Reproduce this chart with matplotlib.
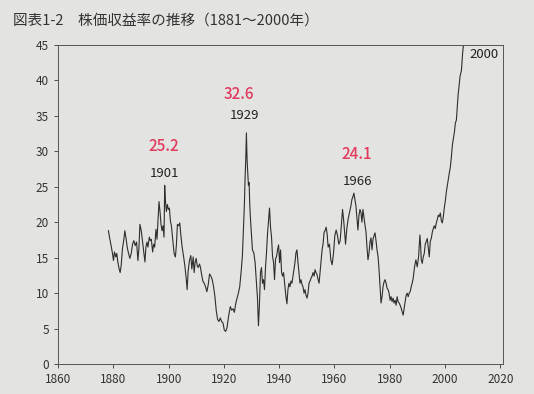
import matplotlib.pyplot as plt

plt.rcParams["font.family"] = ["Noto Sans CJK JP", "DejaVu Sans"]

# 株価収益率 (x positions as drawn in the figure)
years = [
    1878.18, 1878.55, 1879.15, 1879.64, 1880.00, 1880.36, 1880.85, 1881.21, 1881.57, 1882.06,
    1882.42, 1882.79, 1883.27, 1883.76, 1884.12, 1884.48, 1884.97, 1885.45, 1885.94, 1886.42,
    1886.91, 1887.39, 1887.88, 1888.36, 1888.85, 1889.21, 1889.57, 1890.06, 1890.54, 1891.03,
    1891.39, 1891.76, 1892.12, 1892.48, 1892.97, 1893.33, 1893.70, 1894.18, 1894.55, 1894.91,
    1895.39, 1895.76, 1896.12, 1896.48, 1896.85, 1897.21, 1897.57, 1897.94, 1898.30, 1898.54,
    1898.79, 1899.15, 1899.51, 1899.88, 1900.24, 1900.60, 1900.97, 1901.45, 1901.94, 1902.42,
    1902.79, 1903.15, 1903.63, 1904.00, 1904.36, 1904.85, 1905.33, 1905.82, 1906.30, 1906.66,
    1907.03, 1907.51, 1908.00, 1908.36, 1908.85, 1909.21, 1909.57, 1909.94, 1910.30, 1910.66,
    1911.15, 1911.51, 1911.87, 1912.36, 1912.84, 1913.33, 1913.81, 1914.30, 1914.78, 1915.27,
    1915.75, 1916.24, 1916.72, 1917.21, 1917.69, 1918.18, 1918.66, 1919.15, 1919.63, 1920.12,
    1920.60, 1921.09, 1921.57, 1921.82, 1922.30, 1922.79, 1923.27, 1923.76, 1924.24, 1924.73,
    1925.21, 1925.70, 1926.18, 1926.66, 1927.03, 1927.39, 1927.63, 1927.88, 1928.12, 1928.36,
    1928.60, 1928.85, 1929.09, 1929.33, 1929.57, 1929.94, 1930.30, 1930.79, 1931.27, 1931.76,
    1932.12, 1932.48, 1932.85, 1933.21, 1933.57, 1933.94, 1934.30, 1934.66, 1935.03, 1935.39,
    1935.76, 1936.12, 1936.48, 1936.85, 1937.21, 1937.57, 1937.94, 1938.30, 1938.66, 1939.03,
    1939.39, 1939.76, 1940.12, 1940.48, 1940.85, 1941.21, 1941.57, 1941.94, 1942.42, 1942.79,
    1943.15, 1943.51, 1943.88, 1944.24, 1944.60, 1944.97, 1945.33, 1945.69, 1946.06, 1946.42,
    1946.79, 1947.15, 1947.51, 1947.88, 1948.24, 1948.60, 1948.97, 1949.33, 1949.69, 1950.06,
    1950.42, 1950.78, 1951.15, 1951.51, 1951.88, 1952.24, 1952.60, 1952.97, 1953.33, 1953.69,
    1954.06, 1954.42, 1954.78, 1955.15, 1955.51, 1955.88, 1956.24, 1956.60, 1956.97, 1957.33,
    1957.70, 1958.18, 1958.67, 1959.15, 1959.64, 1960.12, 1960.61, 1961.09, 1961.57, 1962.06,
    1962.54, 1962.91, 1963.27, 1963.64, 1964.00, 1964.48, 1964.97, 1965.45, 1965.94, 1966.30,
    1966.67, 1967.03, 1967.39, 1967.76, 1968.12, 1968.48, 1968.85, 1969.21, 1969.57, 1969.94,
    1970.30, 1970.67, 1971.03, 1971.39, 1971.76, 1972.12, 1972.48, 1972.85, 1973.21, 1973.57,
    1973.94, 1974.30, 1974.67, 1975.03, 1975.39, 1975.76, 1976.12, 1976.48, 1976.85, 1977.21,
    1977.57, 1977.94, 1978.30, 1978.67, 1979.03, 1979.39, 1979.76, 1980.12, 1980.48, 1980.85,
    1981.21, 1981.57, 1981.94, 1982.30, 1982.67, 1983.03, 1983.39, 1983.76, 1984.12, 1984.48,
    1984.85, 1985.21, 1985.57, 1985.94, 1986.30, 1986.67, 1987.03, 1987.39, 1987.76, 1988.12,
    1988.48, 1988.97, 1989.46, 1989.94, 1990.43, 1990.91, 1991.15, 1991.40, 1991.76, 1992.12,
    1992.49, 1992.85, 1993.21, 1993.58, 1993.94, 1994.31, 1994.67, 1995.03, 1995.40, 1995.76,
    1996.12, 1996.49, 1996.85, 1997.21, 1997.58, 1997.94, 1998.31, 1998.67, 1999.03, 1999.40,
    1999.76, 2000.12, 2000.49, 2000.85, 2001.21, 2001.58, 2001.94, 2002.30, 2002.67, 2003.03,
    2003.40, 2003.76, 2004.12, 2004.49, 2004.73, 2004.97, 2005.21, 2005.46, 2005.70, 2005.94,
    2006.18, 2006.43, 2006.67,
]
pe_ratio = [
    18.8, 17.9, 16.7, 15.6, 14.6, 15.8, 15.1, 15.6, 14.4, 13.4,
    12.9, 13.9, 16.3, 17.6, 18.8, 17.9, 16.5, 15.6, 14.9, 15.6,
    16.9, 17.4, 16.7, 17.2, 14.6, 16.3, 19.7, 18.8, 17.2, 15.6,
    14.4, 16.5, 17.2, 16.5, 17.9, 17.4, 17.6, 15.8, 16.9, 16.5,
    19.0, 17.6, 20.4, 22.9, 21.5, 19.7, 18.8, 19.5, 17.9, 25.2,
    23.1, 21.5, 22.5, 21.8, 22.0, 20.2, 19.5, 17.6, 15.6, 15.1,
    16.9, 19.7, 19.5, 19.9, 18.3, 16.5, 15.3, 13.9, 12.2, 10.5,
    13.1, 14.6, 15.3, 13.4, 15.1, 12.9, 14.4, 14.9, 13.9, 13.6,
    14.1, 13.6, 12.7, 11.7, 11.4, 10.9, 10.2, 11.2, 12.7, 12.4,
    11.9, 10.9, 9.5, 7.5, 6.3, 6.0, 6.5, 6.0, 5.8, 4.8,
    4.6, 5.1, 6.5, 7.1, 8.1, 7.6, 7.8, 7.3, 8.5, 9.3,
    10.0, 10.9, 12.9, 15.2, 18.8, 22.5, 26.1, 28.8, 32.6, 28.8,
    27.0, 25.2, 25.6, 22.5, 20.6, 18.4, 16.1, 15.7, 14.3, 11.4,
    9.3, 5.4, 8.5, 12.9, 13.6, 11.4, 11.9, 10.5, 13.6, 15.7,
    18.4, 20.2, 22.0, 19.3, 17.9, 15.2, 14.3, 11.9, 14.8, 15.2,
    16.1, 16.8, 14.3, 16.1, 12.9, 12.4, 12.9, 11.4, 9.5, 8.5,
    10.5, 11.4, 10.9, 11.7, 11.4, 12.4, 13.3, 14.3, 15.7, 16.1,
    14.3, 12.9, 11.4, 11.9, 11.2, 10.9, 10.0, 10.5, 9.7, 9.3,
    10.0, 11.4, 11.7, 12.1, 12.4, 12.9, 12.4, 13.3, 12.9, 12.6,
    11.9, 11.4, 12.9, 14.3, 16.1, 17.0, 18.6, 18.8, 19.3, 18.4,
    16.5, 16.9, 14.7, 14.0, 15.6, 18.1, 18.9, 18.1, 16.9, 17.4,
    20.0, 21.8, 20.5, 18.7, 16.9, 19.2, 20.5, 21.4, 22.3, 23.2,
    23.6, 24.1, 23.2, 22.3, 20.5, 18.9, 20.9, 21.8, 21.4, 20.0,
    21.8, 20.7, 19.6, 18.7, 16.5, 14.7, 15.6, 17.2, 17.8, 16.1,
    17.6, 18.1, 18.5, 17.4, 16.1, 15.2, 13.3, 10.9, 8.6, 9.5,
    10.9, 11.6, 11.9, 11.4, 10.7, 10.5, 10.0, 9.0, 9.5, 8.8,
    9.3, 8.6, 9.0, 8.3, 9.5, 8.8, 8.6, 8.3, 7.9, 7.4,
    6.9, 7.9, 8.8, 9.7, 10.0, 9.5, 10.0, 10.2, 10.9, 11.4,
    12.1, 13.7, 14.7, 13.7, 15.1, 18.2, 16.9, 14.7, 14.2, 15.1,
    15.6, 16.9, 17.3, 17.7, 16.4, 15.1, 17.3, 17.7, 18.6, 19.1,
    19.5, 19.1, 19.9, 20.4, 21.0, 20.8, 21.3, 20.2, 19.9, 20.8,
    22.1, 23.0, 24.3, 25.2, 26.1, 27.0, 27.8, 29.2, 30.9, 31.8,
    32.7, 34.0, 34.4, 36.6, 37.9, 38.8, 39.7, 40.6, 41.0, 41.4,
    42.8, 44.1, 44.9,
]

peak_labels = ["1901", "1929", "1966", "2000"]
peak_label_x = [1898.5, 1927.6, 1968.4, 2014.2]
peak_label_y = [26.9, 35.0, 25.7, 43.7]

memo_labels = ["25.2", "32.6", "24.1"]
memo_x = [1898.2, 1925.5, 1968.0]
memo_y = [30.7, 38.0, 29.5]

paper = "#e3e3e1"
fig = plt.figure(figsize=(5.34, 3.94), dpi=100, facecolor=paper)
ax = fig.add_axes([0.109, 0.076, 0.833, 0.81], facecolor=paper)

ax.plot(years, pe_ratio, color="#2e2e2e", linewidth=0.8)

for txt, x, y in zip(peak_labels, peak_label_x, peak_label_y):
    ax.text(x, y, txt, ha="center", va="center", fontsize=9.5, color="#222222")

for txt, x, y in zip(memo_labels, memo_x, memo_y):
    ax.text(x, y, txt, ha="center", va="center", fontsize=11, color="#e23a5c",
            fontweight="medium")

ax.set_xlim(1860, 2021)
ax.set_ylim(0, 45)
ax.set_xticks(range(1860, 2021, 20))
ax.set_yticks(range(0, 46, 5))
ax.tick_params(labelsize=8.5, colors="#333333", length=3, width=0.6, direction="out")
for sp in ax.spines.values():
    sp.set_color("#555555")
    sp.set_linewidth(0.7)

fig.text(0.025, 0.948, "図表1-2　株価収益率の推移（1881～2000年）",
         ha="left", va="center", fontsize=10.5, color="#333333")

fig.savefig("out.png", dpi=100, facecolor=paper)
